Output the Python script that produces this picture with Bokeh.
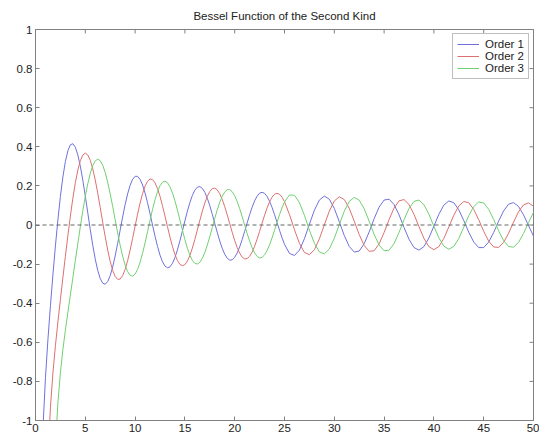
from bokeh.plotting import figure
from bokeh.models import Range1d, FixedTicker, Span
from bokeh.embed import file_html
from bokeh.resources import INLINE

# ---- data ----
x = [0.5, 0.75, 1.0, 1.25, 1.5, 1.75, 2.0, 2.25, 2.5, 2.75,
     3.0, 3.25, 3.5, 3.75,
     4.0, 4.25, 4.5, 4.75,
     5.0, 5.25, 5.5, 5.75,
     6.0, 6.25, 6.5, 6.75,
     7.0, 7.25, 7.5, 7.75,
     8.0, 8.25, 8.5, 8.75,
     9.0, 9.25, 9.5, 9.75,
     10.0, 10.25, 10.5, 10.75,
     11.0, 11.25, 11.5, 11.75,
     12.0, 12.25, 12.5, 12.75,
     13.0, 13.25, 13.5, 13.75,
     14.0, 14.25, 14.5, 14.75,
     15.0, 15.25, 15.5, 15.75,
     16.0, 16.25, 16.5, 16.75,
     17.0, 17.25, 17.5, 17.75,
     18.0, 18.25, 18.5, 18.75,
     19.0, 19.25, 19.5, 19.75,
     20.0, 20.25, 20.5, 20.75,
     21.0, 21.25, 21.5, 21.75,
     22.0, 22.25, 22.5, 22.75,
     23.0, 23.25, 23.5, 23.75,
     24.0, 24.25, 24.5, 24.75,
     25.0, 25.5, 26.0, 26.5, 27.0, 27.5, 28.0, 28.5, 29.0, 29.5,
     30.0, 30.5, 31.0, 31.5, 32.0, 32.5, 33.0, 33.5, 34.0, 34.5,
     35.0, 35.5, 36.0, 36.5, 37.0, 37.5, 38.0, 38.5, 39.0, 39.5,
     40.0, 40.5, 41.0, 41.5, 42.0, 42.5, 43.0, 43.5, 44.0, 44.5,
     45.0, 45.5, 46.0, 46.5, 47.0, 47.5, 48.0, 48.5, 49.0, 49.5,
     50.0]

order1 = [-1.4715, -1.0376, -0.7812, -0.5843, -0.4123, -0.2540, -0.1070, 0.0272, 0.1459, 0.2456,
          0.3247, 0.3797, 0.4102, 0.4159,
          0.3979, 0.3586, 0.3010, 0.2293,
          0.1479, 0.0619, -0.0238, -0.1042,
          -0.1750, -0.2326, -0.2741, -0.2977,
          -0.3027, -0.2894, -0.2591, -0.2143,
          -0.1581, -0.0940, -0.0261, 0.0413,
          0.1043, 0.1593, 0.2032, 0.2336,
          0.2490, 0.2489, 0.2337, 0.2046,
          0.1637, 0.1138, 0.0579, -0.0002,
          -0.0571, -0.1093, -0.1539, -0.1881,
          -0.2101, -0.2188, -0.2140, -0.1962,
          -0.1666, -0.1274, -0.0810, -0.0305,
          0.0211, 0.0705, 0.1148, 0.1513,
          0.1780, 0.1933, 0.1965, 0.1875,
          0.1673, 0.1369, 0.0986, 0.0547,
          0.0082, -0.0383, -0.0818, -0.1196,
          -0.1496, -0.1699, -0.1796, -0.1780,
          -0.1655, -0.1430, -0.1119, -0.0743,
          -0.0325, 0.0107, 0.0528, 0.0911,
          0.1234, 0.1477, 0.1626, 0.1673,
          0.1617, 0.1461, 0.1217, 0.0900,
          0.0531, 0.0133, -0.0270, -0.0651,
          -0.0988, -0.1454, -0.1558, -0.1283, -0.0703, 0.0038, 0.0755, 0.1277, 0.1480, 0.1321,
          0.0844, 0.0170, -0.0534, -0.1097, -0.1386, -0.1333, -0.0958, -0.0356, 0.0324, 0.0915,
          0.1275, 0.1321, 0.1045, 0.0519, -0.0126, -0.0732, -0.1151, -0.1286, -0.1106, -0.0659,
          -0.0058, 0.0550, 0.1017, 0.1230, 0.1142, 0.0777, 0.0228, -0.0371, -0.0873, -0.1156,
          -0.1155, -0.0873, -0.0382, 0.0198, 0.0722, 0.1066, 0.1146, 0.0947, 0.0519, -0.0031,
          -0.0568]

order2 = [-5.4414, -2.6298, -1.6507, -1.1931, -0.9322, -0.7557, -0.6174, -0.4959, -0.3813, -0.2696,
          -0.1604, -0.0544, 0.0454, 0.1366,
          0.2159, 0.2807, 0.3285, 0.3578,
          0.3677, 0.3584, 0.3308, 0.2871,
          0.2299, 0.1625, 0.0889, 0.0132,
          -0.0605, -0.1282, -0.1864, -0.2321,
          -0.2630, -0.2779, -0.2763, -0.2588,
          -0.2268, -0.1823, -0.1284, -0.0684,
          -0.0059, 0.0555, 0.1121, 0.1607,
          0.1986, 0.2239, 0.2353, 0.2324,
          0.2157, 0.1864, 0.1465, 0.0987,
          0.0459, -0.0087, -0.0618, -0.1102,
          -0.1510, -0.1820, -0.2015, -0.2084,
          -0.2027, -0.1847, -0.1558, -0.1180,
          -0.0736, -0.0254, 0.0237, 0.0705,
          0.1123, 0.1467, 0.1717, 0.1858,
          0.1885, 0.1796, 0.1600, 0.1306,
          0.0935, 0.0517, 0.0070, -0.0375,
          -0.0792, -0.1155, -0.1443, -0.1640,
          -0.1733, -0.1719, -0.1600, -0.1385,
          -0.1087, -0.0725, -0.0324, 0.0094,
          0.0500, 0.0872, 0.1186, 0.1425,
          0.1573, 0.1623, 0.1572, 0.1426,
          0.1193, 0.0535, -0.0240, -0.0943, -0.1404, -0.1519, -0.1265, -0.0709, 0.0007, 0.0710,
          0.1229, 0.1443, 0.1304, 0.0852, 0.0201, -0.0489, -0.1049, -0.1348, -0.1315, -0.0964,
          -0.0385, 0.0279, 0.0867, 0.1236, 0.1300, 0.1049, 0.0546, -0.0083, -0.0683, -0.1110,
          -0.1262, -0.1106, -0.0684, -0.0100, 0.0501, 0.0973, 0.1203, 0.1139, 0.0798, 0.0268,
          -0.0322, -0.0827, -0.1125, -0.1147, -0.0890, -0.0419, 0.0149, 0.0674, 0.1031, 0.1133,
          0.0958]

order3 = [-42.06, -12.988, -5.8215, -3.2336, -2.0736, -1.4734, -1.1278, -0.9088, -0.7561, -0.6378,
          -0.5385, -0.4467, -0.3583, -0.2702,
          -0.1820, -0.0944, -0.0090, 0.0720,
          0.1463, 0.2112, 0.2644, 0.3039,
          0.3282, 0.3366, 0.3288, 0.3055,
          0.2681, 0.2186, 0.1597, 0.0946,
          0.0265, -0.0408, -0.1039, -0.1596,
          -0.2051, -0.2382, -0.2573, -0.2617,
          -0.2514, -0.2273, -0.1909, -0.1448,
          -0.0914, -0.0341, 0.0239, 0.0793,
          0.1290, 0.1702, 0.2007, 0.2190,
          0.2242, 0.2162, 0.1957, 0.1642,
          0.1235, 0.0763, 0.0255, -0.0260,
          -0.0751, -0.1189, -0.1550, -0.1813,
          -0.1964, -0.1995, -0.1908, -0.1707,
          -0.1409, -0.1029, -0.0593, -0.0129,
          0.0337, 0.0776, 0.1163, 0.1475,
          0.1693, 0.1807, 0.1810, 0.1704,
          0.1497, 0.1201, 0.0837, 0.0427,
          -0.0005, -0.0431, -0.0826, -0.1166,
          -0.1432, -0.1608, -0.1684, -0.1657,
          -0.1530, -0.1311, -0.1015, -0.0660,
          -0.0269, 0.0135, 0.0526, 0.0881,
          0.1179, 0.1537, 0.1521, 0.1141, 0.0495, -0.0259, -0.0936, -0.1377, -0.1479, -0.1225,
          -0.0680, 0.0019, 0.0702, 0.1205, 0.1411, 0.1273, 0.0831, 0.0195, -0.0479, -0.1027,
          -0.1319, -0.1289, -0.0948, -0.0383, 0.0267, 0.0844, 0.1209, 0.1277, 0.1036, 0.0547,
          -0.0068, -0.0659, -0.1083, -0.1240, -0.1095, -0.0686, -0.0116, 0.0476, 0.0945, 0.1180,
          0.1127, 0.0801, 0.0284, -0.0296, -0.0798, -0.1101, -0.1134, -0.0891, -0.0435, 0.0123,
          0.0645]

series_names = ["Order 1", "Order 2", "Order 3"]
x_ticks = [0, 5, 10, 15, 20, 25, 30, 35, 40, 45, 50]
x_tick_labels = ["0", "5", "10", "15", "20", "25", "30", "35", "40", "45", "50"]
y_ticks = [-1, -0.8, -0.6, -0.4, -0.2, 0, 0.2, 0.4, 0.6, 0.8, 1]
y_tick_labels = ["-1", "-0.8", "-0.6", "-0.4", "-0.2", "0", "0.2", "0.4", "0.6", "0.8", "1"]
title_text = "Bessel Function of the Second Kind"

# ---- styling ----
FONT = "Liberation Sans"
AXIS_COLOR = "#808080"
TEXT_COLOR = "#222222"
colors = ["#7070dd", "#dd7070", "#70d070"]

p = figure(width=539, height=437, output_backend="svg", toolbar_location=None,
           x_range=Range1d(x_ticks[0], x_ticks[-1]), y_range=Range1d(y_ticks[0], y_ticks[-1]),
           title=title_text,
           min_border_left=35, min_border_right=6, min_border_top=28, min_border_bottom=17)

p.title.align = "center"
p.title.text_font = FONT
p.title.text_font_size = "11.5px"
p.title.text_font_style = "normal"
p.title.text_color = TEXT_COLOR
p.title.standoff = 15

p.background_fill_color = "white"
p.border_fill_color = "white"
p.outline_line_color = AXIS_COLOR
p.xgrid.visible = False
p.ygrid.visible = False

def style_axis(ax, ticks, labels):
    ax.ticker = FixedTicker(ticks=ticks)
    ax.major_label_overrides = {t: s for t, s in zip(ticks, labels)}
    ax.axis_line_color = AXIS_COLOR
    ax.major_tick_line_color = AXIS_COLOR
    ax.minor_tick_line_color = None
    ax.major_tick_in = 4
    ax.major_tick_out = 0
    ax.major_label_text_font = FONT
    ax.major_label_text_font_size = "11.5px"
    ax.major_label_text_color = TEXT_COLOR
    ax.major_label_standoff = 3

style_axis(p.xaxis[0], x_ticks, x_tick_labels)
style_axis(p.yaxis[0], y_ticks, y_tick_labels)

# inward tick marks on the top and right edges (box style), clipped to the frame
p.scatter(x_ticks, [y_ticks[-1]] * len(x_ticks), marker="dash", angle=1.5708,
          size=8, line_color=AXIS_COLOR, line_width=1)
p.scatter([x_ticks[-1]] * len(y_ticks), y_ticks, marker="dash",
          size=8, line_color=AXIS_COLOR, line_width=1)

zero = Span(location=0, dimension="width", line_color="#666666",
            line_dash="4 3", line_width=1)
p.add_layout(zero)

for ys, name, c in zip([order1, order2, order3], series_names, colors):
    p.line(x, ys, line_color=c, line_width=1, legend_label=name)

lg = p.legend[0]
lg.location = "top_right"
lg.margin = 4
lg.padding = 4
lg.spacing = 0
lg.label_height = 12
lg.glyph_height = 12
lg.glyph_width = 22
lg.label_standoff = 6
lg.label_text_font = FONT
lg.label_text_font_size = "11.5px"
lg.label_text_color = TEXT_COLOR
lg.border_line_color = AXIS_COLOR
lg.border_line_width = 1
lg.background_fill_color = "white"
lg.background_fill_alpha = 1.0

open("out.html", "w").write(file_html(p, INLINE))
